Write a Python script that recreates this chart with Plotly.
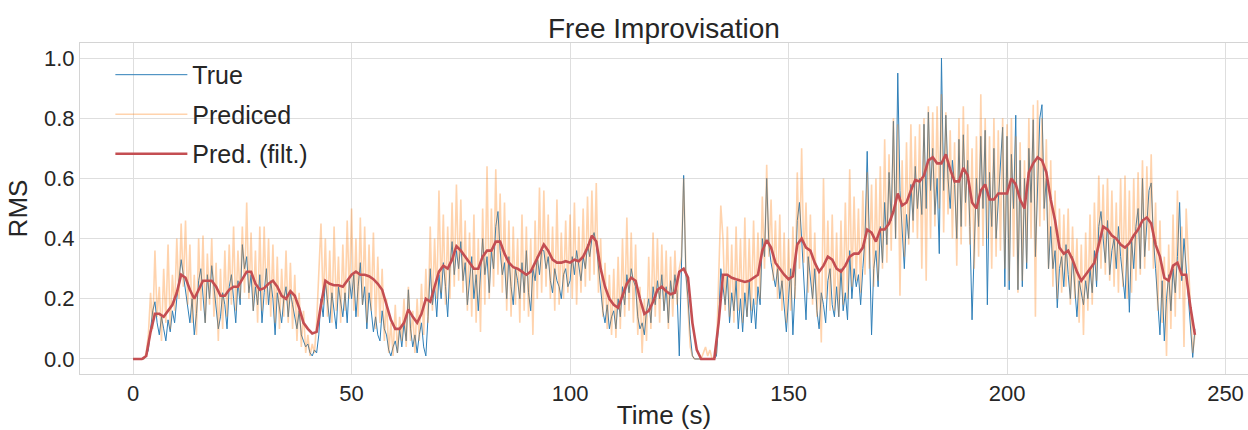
import numpy as np
import plotly.graph_objects as go

# sampled every 0.5 s, t = 0 .. 243 s
true_rms = [
    # 0-10
    0,0,0,0,0,0,0.01,0.03,0.10,0.16,0.19,0.12,0.08,0.14,0.10,0.06,0.13,0.09,0.16,0.12,
    # 10-20
    0.20,0.26,0.33,0.28,0.22,0.17,0.12,0.20,0.08,0.15,0.26,0.30,0.22,0.12,0.28,0.20,0.31,0.24,0.18,0.10,
    # 20-30
    0.14,0.22,0.18,0.10,0.24,0.28,0.20,0.12,0.26,0.18,0.38,0.30,0.34,0.22,0.28,0.16,0.24,0.18,0.28,0.12,
    # 30-40
    0.22,0.30,0.18,0.26,0.20,0.08,0.22,0.16,0.12,0.20,0.24,0.14,0.22,0.18,0.14,0.10,0.16,0.08,0.06,0.04,
    # 40-50
    0.05,0.02,0.01,0.03,0.02,0.08,0.20,0.14,0.26,0.18,0.12,0.22,0.16,0.10,0.24,0.18,0.14,0.22,0.12,0.26,
    # 50-60
    0.20,0.28,0.14,0.24,0.32,0.18,0.24,0.10,0.22,0.16,0.09,0.14,0.08,0.06,0.16,0.10,0.08,0.03,0.01,0.04,
    # 60-70
    0.06,0.02,0.10,0.04,0.12,0.06,0.23,0.10,0.04,0.08,0.02,0.08,0.12,0.04,0.01,0.14,0.30,0.18,0.24,0.14,
    # 70-80
    0.28,0.20,0.32,0.24,0.14,0.30,0.39,0.28,0.36,0.30,0.39,0.26,0.32,0.18,0.26,0.34,0.20,0.28,0.16,0.30,
    # 80-90
    0.40,0.28,0.34,0.22,0.36,0.30,0.44,0.49,0.36,0.28,0.32,0.20,0.34,0.24,0.18,0.30,0.26,0.20,0.32,0.22,
    # 90-100
    0.36,0.22,0.16,0.30,0.26,0.34,0.28,0.36,0.36,0.30,0.34,0.26,0.22,0.30,0.26,0.24,0.20,0.28,0.30,0.24,
    # 100-110
    0.26,0.34,0.28,0.36,0.30,0.26,0.34,0.30,0.38,0.34,0.40,0.42,0.38,0.30,0.22,0.16,0.12,0.18,0.10,0.14,
    # 110-120
    0.16,0.10,0.20,0.14,0.24,0.18,0.28,0.22,0.30,0.26,0.24,0.14,0.10,0.12,0.08,0.16,0.20,0.12,0.24,0.18,
    # 120-130
    0.26,0.20,0.28,0.16,0.24,0.12,0.26,0.20,0.28,0.22,0.01,0.30,0.61,0.28,0.20,0.08,0.01,0.0,0.0,0.0,
    # 130-140
    0,0,0,0,0,0,0,0.01,0.12,0.30,0.24,0.18,0.28,0.12,0.22,0.16,0.26,0.10,0.20,0.09,
    # 140-150
    0.22,0.14,0.26,0.12,0.20,0.10,0.24,0.18,0.40,0.34,0.60,0.38,0.32,0.28,0.24,0.30,0.20,0.26,0.16,0.09,
    # 150-160
    0.20,0.30,0.08,0.24,0.46,0.52,0.40,0.28,0.13,0.34,0.28,0.20,0.30,0.16,0.10,0.22,0.18,0.12,0.26,0.30,
    # 160-170
    0.18,0.14,0.24,0.14,0.30,0.16,0.22,0.13,0.36,0.20,0.30,0.24,0.28,0.18,0.30,0.40,0.69,0.42,0.08,0.30,
    # 170-180
    0.36,0.24,0.44,0.32,0.52,0.38,0.62,0.46,0.79,0.40,0.95,0.56,0.44,0.30,0.48,0.40,0.58,0.46,0.64,0.50,
    # 180-190
    0.60,0.48,0.78,0.50,0.82,0.56,0.70,0.48,0.60,0.35,1.0,0.56,0.81,0.60,0.50,0.66,0.58,0.40,0.73,0.44,
    # 190-200
    0.745,0.52,0.66,0.44,0.13,0.36,0.60,0.44,0.74,0.50,0.76,0.18,0.62,0.44,0.70,0.40,0.52,0.66,0.77,0.24,
    # 200-210
    0.74,0.23,0.68,0.50,0.81,0.23,0.66,0.24,0.60,0.30,0.70,0.52,0.795,0.34,0.60,0.80,0.845,0.50,0.60,0.30,
    # 210-220
    0.44,0.30,0.36,0.17,0.30,0.34,0.24,0.38,0.28,0.20,0.34,0.22,0.14,0.26,0.22,0.18,0.26,0.20,0.30,0.22,
    # 220-230
    0.36,0.24,0.44,0.49,0.40,0.32,0.46,0.28,0.36,0.40,0.30,0.44,0.34,0.26,0.20,0.38,0.155,0.40,0.30,0.44,
    # 230-240
    0.50,0.30,0.60,0.34,0.44,0.56,0.585,0.40,0.30,0.20,0.08,0.26,0.06,0.20,0.28,0.16,0.30,0.22,0.34,0.52,
    # 240-243
    0.26,0.40,0.30,0.20,0.12,0.005,0.10,
]

pred_rms = [
    # 0-10
    0,0,0,0,0,0,0.02,0.08,0.22,0.10,0.36,0.14,0.24,0.06,0.30,0.12,0.38,0.10,0.28,0.16,
    # 10-20
    0.40,0.20,0.45,0.24,0.46,0.18,0.38,0.12,0.28,0.08,0.40,0.16,0.41,0.12,0.35,0.18,0.40,0.14,0.32,0.06,
    # 20-30
    0.30,0.10,0.36,0.14,0.38,0.18,0.44,0.16,0.36,0.20,0.44,0.22,0.52,0.20,0.42,0.16,0.36,0.12,0.44,0.16,
    # 30-40
    0.44,0.18,0.40,0.14,0.38,0.12,0.34,0.10,0.30,0.14,0.36,0.12,0.32,0.10,0.28,0.06,0.22,0.04,0.16,0.02,
    # 40-50
    0.08,0.01,0.05,0.02,0.12,0.30,0.45,0.18,0.40,0.14,0.36,0.12,0.44,0.16,0.34,0.12,0.38,0.16,0.46,0.20,
    # 50-60
    0.50,0.16,0.40,0.14,0.47,0.18,0.44,0.12,0.38,0.16,0.42,0.10,0.34,0.12,0.30,0.06,0.20,0.02,0.12,0.01,
    # 60-70
    0.18,0.02,0.14,0.06,0.20,0.04,0.24,0.06,0.16,0.02,0.20,0.06,0.25,0.08,0.30,0.12,0.44,0.16,0.40,0.20,
    # 70-80
    0.56,0.22,0.48,0.18,0.44,0.20,0.52,0.24,0.58,0.26,0.53,0.22,0.46,0.16,0.42,0.14,0.48,0.12,0.40,0.09,
    # 80-90
    0.50,0.18,0.64,0.20,0.50,0.24,0.63,0.28,0.55,0.22,0.52,0.16,0.46,0.14,0.44,0.18,0.40,0.12,0.48,0.16,
    # 90-100
    0.44,0.14,0.40,0.08,0.46,0.20,0.57,0.22,0.56,0.24,0.48,0.20,0.44,0.16,0.53,0.18,0.42,0.20,0.46,0.22,
    # 100-110
    0.48,0.20,0.52,0.18,0.44,0.22,0.50,0.24,0.54,0.26,0.56,0.28,0.585,0.22,0.40,0.14,0.32,0.10,0.28,0.08,
    # 110-120
    0.30,0.07,0.34,0.10,0.40,0.14,0.47,0.16,0.42,0.12,0.38,0.08,0.24,0.02,0.20,0.06,0.34,0.10,0.42,0.14,
    # 120-130
    0.40,0.12,0.38,0.16,0.36,0.10,0.34,0.14,0.36,0.18,0.30,0.34,0.60,0.30,0.16,0.04,0.01,0.0,0.0,0.0,
    # 130-140
    0,0.02,0.04,0.01,0.03,0.0,0.0,0.02,0.30,0.51,0.40,0.16,0.44,0.14,0.38,0.12,0.44,0.16,0.40,0.12,
    # 140-150
    0.47,0.14,0.40,0.16,0.46,0.18,0.42,0.20,0.54,0.30,0.645,0.34,0.53,0.26,0.46,0.20,0.48,0.16,0.42,0.12,
    # 150-160
    0.40,0.16,0.44,0.20,0.62,0.30,0.70,0.32,0.52,0.22,0.48,0.18,0.42,0.14,0.30,0.055,0.60,0.20,0.46,0.16,
    # 160-170
    0.48,0.16,0.42,0.14,0.46,0.18,0.52,0.20,0.63,0.24,0.54,0.26,0.50,0.22,0.56,0.28,0.62,0.30,0.58,0.24,
    # 170-180
    0.60,0.26,0.64,0.30,0.73,0.32,0.68,0.36,0.80,0.40,0.78,0.21,0.66,0.34,0.72,0.38,0.78,0.42,0.74,0.40,
    # 180-190
    0.78,0.30,0.80,0.26,0.84,0.40,0.82,0.44,0.84,0.50,0.88,0.42,0.82,0.48,0.76,0.40,0.72,0.31,0.80,0.38,
    # 190-200
    0.84,0.44,0.78,0.38,0.70,0.30,0.74,0.34,0.88,0.375,0.80,0.40,0.74,0.30,0.80,0.34,0.76,0.36,0.80,0.30,
    # 200-210
    0.78,0.26,0.80,0.34,0.74,0.22,0.72,0.26,0.66,0.32,0.80,0.40,0.845,0.14,0.86,0.44,0.80,0.46,0.73,0.30,
    # 210-220
    0.66,0.24,0.56,0.20,0.50,0.22,0.48,0.24,0.50,0.18,0.44,0.20,0.40,0.12,0.38,0.08,0.42,0.16,0.48,0.18,
    # 220-230
    0.52,0.26,0.61,0.30,0.58,0.28,0.60,0.26,0.56,0.24,0.52,0.22,0.60,0.24,0.61,0.20,0.56,0.22,0.60,0.26,
    # 230-240
    0.62,0.28,0.66,0.30,0.64,0.36,0.68,0.30,0.52,0.16,0.46,0.12,0.34,0.01,0.38,0.10,0.48,0.14,0.56,0.20,
    # 240-243
    0.44,0.04,0.50,0.30,0.16,0.02,0.08,
]

# smoothed prediction, sampled every 1 s, t = 0 .. 243 s
pred_filt = [
    0,0,0,0.01,0.09,0.15,0.15,0.14,0.16,0.18,
    0.22,0.28,0.27,0.23,0.20,0.23,0.26,0.26,0.26,0.24,
    0.21,0.21,0.23,0.24,0.24,0.265,0.29,0.29,0.25,0.23,
    0.235,0.25,0.26,0.24,0.21,0.20,0.225,0.21,0.17,0.12,
    0.10,0.085,0.09,0.18,0.26,0.25,0.245,0.245,0.24,0.26,
    0.28,0.29,0.28,0.28,0.275,0.265,0.25,0.23,0.18,0.13,
    0.10,0.10,0.12,0.165,0.14,0.12,0.15,0.20,0.19,0.24,
    0.29,0.31,0.30,0.33,0.375,0.36,0.34,0.32,0.30,0.30,
    0.34,0.36,0.36,0.39,0.39,0.35,0.32,0.305,0.30,0.29,
    0.28,0.29,0.32,0.35,0.38,0.36,0.33,0.32,0.32,0.325,
    0.32,0.33,0.325,0.34,0.37,0.41,0.39,0.30,0.24,0.20,
    0.18,0.17,0.21,0.25,0.27,0.26,0.20,0.15,0.16,0.19,
    0.23,0.24,0.225,0.215,0.22,0.29,0.30,0.27,0.12,0.03,
    0,0,0,0,0.12,0.28,0.28,0.27,0.265,0.26,
    0.256,0.26,0.27,0.28,0.36,0.395,0.37,0.32,0.30,0.28,
    0.265,0.275,0.38,0.40,0.37,0.36,0.32,0.29,0.31,0.34,
    0.33,0.30,0.29,0.31,0.34,0.35,0.35,0.37,0.43,0.42,
    0.39,0.43,0.43,0.45,0.49,0.55,0.51,0.52,0.56,0.595,
    0.59,0.61,0.66,0.67,0.65,0.65,0.68,0.63,0.59,0.59,
    0.635,0.61,0.52,0.50,0.56,0.58,0.53,0.53,0.55,0.55,
    0.55,0.60,0.58,0.53,0.50,0.62,0.65,0.67,0.66,0.62,
    0.53,0.46,0.37,0.35,0.36,0.33,0.29,0.26,0.28,0.30,
    0.32,0.38,0.44,0.43,0.41,0.40,0.38,0.37,0.385,0.41,
    0.43,0.46,0.47,0.45,0.38,0.34,0.27,0.26,0.31,0.32,
    0.28,0.28,0.17,0.08,
]

t_fast = np.arange(len(true_rms)) * 0.5
t_filt = np.arange(len(pred_filt)) * 1.0

x_ticks = [0, 50, 100, 150, 200, 250]
y_ticks = [0.0, 0.2, 0.4, 0.6, 0.8, 1.0]

FONT = "Liberation Sans, Arial, sans-serif"
TXT = "#262626"

fig = go.Figure()
fig.add_trace(go.Scatter(x=t_fast, y=true_rms, mode="lines", name="True",
                         legendgroup="a",
                         line=dict(color="#2f7fb8", width=1)))
fig.add_trace(go.Scatter(x=t_fast, y=pred_rms, mode="lines", name="Prediced",
                         legendgroup="b",
                         line=dict(color="rgba(255,127,14,0.34)", width=1.6)))
fig.add_trace(go.Scatter(x=t_filt, y=pred_filt, mode="lines", name="Pred. (filt.)",
                         legendgroup="c",
                         line=dict(color="#c44e52", width=2.6)))

fig.update_layout(
    width=1248, height=430,
    margin=dict(l=80, r=0, t=43, b=56),
    paper_bgcolor="white", plot_bgcolor="white",
    font=dict(family=FONT, color=TXT),
    title=dict(text="Free Improvisation", x=0.532, xanchor="center",
               y=1 - 28 / 430, yanchor="middle", yref="container",
               font=dict(size=28, color=TXT, family=FONT)),
    showlegend=True,
    legend=dict(x=0.026, y=0.973, xanchor="left", yanchor="top",
                bgcolor="rgba(0,0,0,0)", font=dict(size=25, color=TXT, family=FONT),
                itemwidth=72, tracegroupgap=4),
)
fig.update_xaxes(range=[-12.15, 255.15], tickvals=x_ticks,
                 ticktext=[str(v) for v in x_ticks],
                 showgrid=True, gridcolor="#dedede", gridwidth=1, zeroline=False,
                 showline=True, linecolor="#d4d4d4", linewidth=1, mirror=True,
                 ticks="", tickfont=dict(size=22, color=TXT),
                 title=dict(text="Time (s)", font=dict(size=26, color=TXT), standoff=4))
fig.update_yaxes(range=[-0.05, 1.05], tickvals=y_ticks,
                 ticktext=[f"{v:.1f}" for v in y_ticks],
                 showgrid=True, gridcolor="#dedede", gridwidth=1, zeroline=False,
                 showline=True, linecolor="#d4d4d4", linewidth=1, mirror=True,
                 ticks="", tickfont=dict(size=22, color=TXT),
                 title=dict(text="RMS", font=dict(size=26, color=TXT), standoff=8))

fig.write_html("out.html")
